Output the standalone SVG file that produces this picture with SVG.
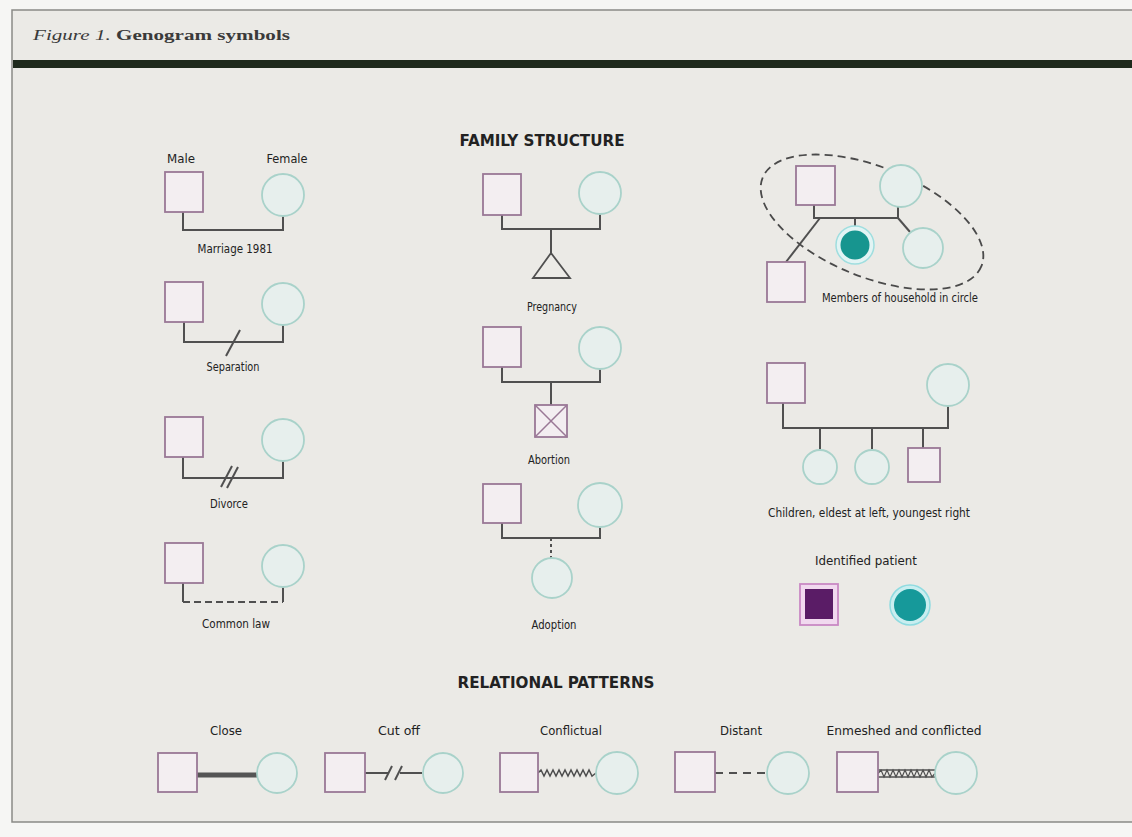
<svg xmlns="http://www.w3.org/2000/svg" width="1132" height="837" viewBox="0 0 1132 837">
<style>
.sq{fill:#f3eef1;stroke:#9a7896;stroke-width:1.8}
.ci{fill:#e7efed;stroke:#a9d2ca;stroke-width:1.8}
.ln{fill:none;stroke:#505050;stroke-width:2}
.lb{font-family:"DejaVu Sans Condensed","Liberation Sans Narrow","Liberation Sans",sans-serif;font-stretch:condensed;font-size:12.5px;fill:#222;text-anchor:middle}
.hd{font-family:"DejaVu Sans Condensed","Liberation Sans",sans-serif;font-stretch:condensed;font-weight:bold;font-size:16px;fill:#222;text-anchor:middle}
</style>
<rect x="0" y="0" width="1132" height="837" fill="#f6f6f4"/>
<rect x="12" y="10" width="1125" height="812" fill="#ebeae6" stroke="#8a8a86" stroke-width="1.5"/>
<rect x="13" y="60" width="1119" height="8" fill="#1f2a1c"/>
<text x="33" y="40" font-family="'Liberation Serif',serif" font-size="15.5px" fill="#3a3a3a" textLength="257" lengthAdjust="spacingAndGlyphs"><tspan font-style="italic">Figure 1.</tspan><tspan font-weight="bold"> Genogram symbols</tspan></text>

<text class="hd" x="542" y="146" textLength="165" lengthAdjust="spacingAndGlyphs">FAMILY STRUCTURE</text>
<text class="hd" x="556" y="688" textLength="197" lengthAdjust="spacingAndGlyphs">RELATIONAL PATTERNS</text>

<g id="connectors">
  <!-- marriage -->
  <path class="ln" d="M183 212 V230 H283 V216"/>
  <!-- separation -->
  <path class="ln" d="M184 322 V342 H283 V325"/>
  <line class="ln" x1="240" y1="330" x2="226" y2="356"/>
  <!-- divorce -->
  <path class="ln" d="M183 457 V478 H283 V461"/>
  <line class="ln" x1="232" y1="466" x2="221" y2="487"/>
  <line class="ln" x1="238" y1="467" x2="227" y2="488"/>
  <!-- common law -->
  <path class="ln" d="M183 583 V602"/>
  <path class="ln" d="M283 587 V602"/>
  <line class="ln" x1="183" y1="602" x2="283" y2="602" stroke-dasharray="7 4"/>
  <!-- pregnancy -->
  <path class="ln" d="M502 215 V229 H600 V214"/>
  <line class="ln" x1="551" y1="229" x2="551" y2="253"/>
  <!-- abortion -->
  <path class="ln" d="M502 367 V382 H600 V369"/>
  <line class="ln" x1="551" y1="382" x2="551" y2="405"/>
  <!-- adoption -->
  <path class="ln" d="M502 523 V538 H600 V527"/>
  <line class="ln" x1="551" y1="538" x2="551" y2="558" stroke-dasharray="3 3"/>
  <!-- household -->
  <path class="ln" d="M814 205 V218 H898 V207"/>
  <line class="ln" x1="855" y1="218" x2="855" y2="226"/>
  <line class="ln" x1="898" y1="218" x2="910" y2="232"/>
  <line class="ln" x1="820" y1="218" x2="786" y2="262"/>
  <!-- children -->
  <path class="ln" d="M783 403 V428 H948 V406"/>
  <line class="ln" x1="820" y1="428" x2="820" y2="450"/>
  <line class="ln" x1="872" y1="428" x2="872" y2="450"/>
  <line class="ln" x1="923" y1="428" x2="923" y2="448"/>
  <!-- close -->
  <line x1="197" y1="775" x2="257" y2="775" stroke="#555" stroke-width="5"/>
  <!-- cut off -->
  <line class="ln" x1="365" y1="773" x2="389" y2="773"/>
  <line class="ln" x1="400" y1="773" x2="422" y2="773"/>
  <line class="ln" x1="385" y1="780" x2="392" y2="766"/>
  <line class="ln" x1="395" y1="780" x2="402" y2="766"/>
  <!-- conflictual -->
  <polyline fill="none" stroke="#505050" stroke-width="1.5" points="538,773 541,770 544,776 547,770 550,776 553,770 556,776 559,770 562,776 565,770 568,776 571,770 574,776 577,770 580,776 583,770 586,776 589,770 592,776 596,773"/>
  <!-- distant -->
  <line class="ln" x1="715" y1="773" x2="767" y2="773" stroke-dasharray="8 6"/>
  <!-- enmeshed -->
  <line x1="878" y1="770" x2="935" y2="770" stroke="#505050" stroke-width="1.5"/>
  <line x1="878" y1="777" x2="935" y2="777" stroke="#505050" stroke-width="1.5"/>
  <polyline fill="none" stroke="#505050" stroke-width="1.2" points="878,773.5 881,770 884,777 887,770 890,777 893,770 896,777 899,770 902,777 905,770 908,777 911,770 914,777 917,770 920,777 923,770 926,777 929,770 932,777 935,773.5"/>
  <!-- household circle -->
  <ellipse cx="872" cy="222" rx="118" ry="55" transform="rotate(22 872 222)" fill="none" stroke="#4a4a4a" stroke-width="1.8" stroke-dasharray="8 5"/>
</g>

<g id="marriage">
  <text class="lb" x="181" y="163" textLength="28" lengthAdjust="spacingAndGlyphs">Male</text>
  <text class="lb" x="287" y="163" textLength="41" lengthAdjust="spacingAndGlyphs">Female</text>
  <rect class="sq" x="165" y="172" width="38" height="40"/>
  <circle class="ci" cx="283" cy="195" r="21"/>
  <text class="lb" x="235" y="253" textLength="75" lengthAdjust="spacingAndGlyphs">Marriage 1981</text>
</g>
<g id="separation">
  <rect class="sq" x="165" y="282" width="38" height="40"/>
  <circle class="ci" cx="283" cy="304" r="21"/>
  <text class="lb" x="233" y="371" textLength="53" lengthAdjust="spacingAndGlyphs">Separation</text>
</g>
<g id="divorce">
  <rect class="sq" x="165" y="417" width="38" height="40"/>
  <circle class="ci" cx="283" cy="440" r="21"/>
  <text class="lb" x="229" y="508" textLength="38" lengthAdjust="spacingAndGlyphs">Divorce</text>
</g>
<g id="common-law">
  <rect class="sq" x="165" y="543" width="38" height="40"/>
  <circle class="ci" cx="283" cy="566" r="21"/>
  <text class="lb" x="236" y="628" textLength="68" lengthAdjust="spacingAndGlyphs">Common law</text>
</g>

<g id="pregnancy">
  <rect class="sq" x="483" y="174" width="38" height="41"/>
  <circle class="ci" cx="600" cy="193" r="21"/>
  <polygon points="551,253 533,278 570,278" fill="#ecebe7" stroke="#505050" stroke-width="1.8"/>
  <text class="lb" x="552" y="311" textLength="50" lengthAdjust="spacingAndGlyphs">Pregnancy</text>
</g>
<g id="abortion">
  <rect class="sq" x="483" y="327" width="38" height="40"/>
  <circle class="ci" cx="600" cy="348" r="21"/>
  <rect class="sq" x="535" y="405" width="32" height="32"/>
  <path d="M535 405 L567 437 M567 405 L535 437" stroke="#9a7896" stroke-width="1.5"/>
  <text class="lb" x="549" y="464" textLength="42" lengthAdjust="spacingAndGlyphs">Abortion</text>
</g>
<g id="adoption">
  <rect class="sq" x="483" y="484" width="38" height="39"/>
  <circle class="ci" cx="600" cy="505" r="22"/>
  <circle class="ci" cx="552" cy="578" r="20"/>
  <text class="lb" x="554" y="629" textLength="45" lengthAdjust="spacingAndGlyphs">Adoption</text>
</g>

<g id="household">
  <rect class="sq" x="796" y="166" width="39" height="39"/>
  <circle class="ci" cx="901" cy="186" r="21"/>
  <circle cx="855" cy="245" r="19" fill="#e2f4f4" stroke="#9fdedf" stroke-width="1.5"/>
  <circle cx="855" cy="245" r="14.5" fill="#17958f"/>
  <circle class="ci" cx="923" cy="248" r="20"/>
  <rect class="sq" x="767" y="262" width="38" height="40"/>
  <text class="lb" x="900" y="302" textLength="156" lengthAdjust="spacingAndGlyphs">Members of household in circle</text>
</g>

<g id="children">
  <rect class="sq" x="767" y="363" width="38" height="40"/>
  <circle class="ci" cx="948" cy="385" r="21"/>
  <circle class="ci" cx="820" cy="467" r="17"/>
  <circle class="ci" cx="872" cy="467" r="17"/>
  <rect class="sq" x="908" y="448" width="32" height="34"/>
  <text class="lb" x="869" y="517" textLength="202" lengthAdjust="spacingAndGlyphs">Children, eldest at left, youngest right</text>
</g>

<g id="identified-patient">
  <text class="lb" x="866" y="565" textLength="102" lengthAdjust="spacingAndGlyphs" font-size="14px">Identified patient</text>
  <rect x="800" y="584" width="38" height="41" fill="#f1d9ef" stroke="#c989c4" stroke-width="1.8"/>
  <rect x="805" y="589" width="28" height="30" fill="#5a1c66"/>
  <circle cx="910" cy="605" r="20" fill="#c9eef0" stroke="#8fdbe0" stroke-width="1.5"/>
  <circle cx="910" cy="605" r="16" fill="#16999a"/>
</g>

<g id="close">
  <text class="lb" x="226" y="735" textLength="32" lengthAdjust="spacingAndGlyphs">Close</text>
  <rect class="sq" x="158" y="753" width="39" height="39"/>
  <circle class="ci" cx="277" cy="773" r="20"/>
</g>
<g id="cut-off">
  <text class="lb" x="399" y="735" textLength="42" lengthAdjust="spacingAndGlyphs">Cut off</text>
  <rect class="sq" x="325" y="753" width="40" height="39"/>
  <circle class="ci" cx="443" cy="773" r="20"/>
</g>
<g id="conflictual">
  <text class="lb" x="571" y="735" textLength="62" lengthAdjust="spacingAndGlyphs">Conflictual</text>
  <rect class="sq" x="500" y="753" width="38" height="39"/>
  <circle class="ci" cx="617" cy="773" r="21"/>
</g>
<g id="distant">
  <text class="lb" x="741" y="735" textLength="42" lengthAdjust="spacingAndGlyphs">Distant</text>
  <rect class="sq" x="675" y="752" width="40" height="40"/>
  <circle class="ci" cx="788" cy="773" r="21"/>
</g>
<g id="enmeshed">
  <text class="lb" x="904" y="735" textLength="155" lengthAdjust="spacingAndGlyphs">Enmeshed and conflicted</text>
  <rect class="sq" x="837" y="752" width="41" height="40"/>
  <circle class="ci" cx="956" cy="773" r="21"/>
</g>
</svg>
